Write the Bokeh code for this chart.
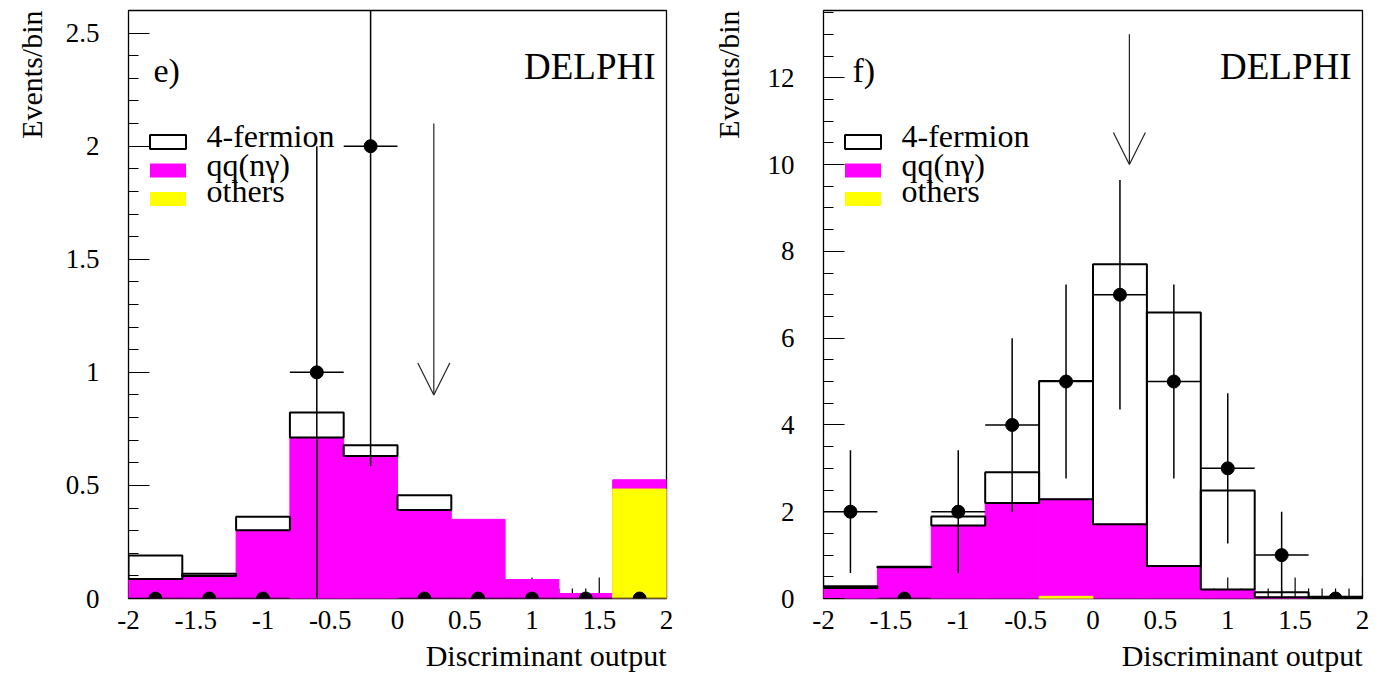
import numpy as np
from bokeh.plotting import figure
from bokeh.layouts import row
from bokeh.models import (Range1d, SingleIntervalTicker, CustomJSTickFormatter,
                          Label, Arrow, OpenHead, Title)
from bokeh.embed import file_html
from bokeh.resources import INLINE

# ---------------- data ----------------
bin_low = [-2.0, -1.6, -1.2, -0.8, -0.4, 0.0, 0.4, 0.8, 1.2, 1.6]
bin_high = [-1.6, -1.2, -0.8, -0.4, 0.0, 0.4, 0.8, 1.2, 1.6, 2.0]
bin_center = [-1.8, -1.4, -1.0, -0.6, -0.2, 0.2, 0.6, 1.0, 1.4, 1.8]

# panel e)
e_others = [0.0, 0.0, 0.0, 0.0, 0.0, 0.0, 0.0, 0.0, 0.0, 0.484]
e_qq = [0.086, 0.100, 0.302, 0.712, 0.630, 0.391, 0.350, 0.084, 0.022, 0.041]
e_fermion4 = [0.104, 0.009, 0.059, 0.110, 0.048, 0.066, 0.0, 0.0, 0.0, 0.0]
e_data = [0, 0, 0, 1, 2, 0, 0, 0, 0, 0]
e_cut = 0.27
e_arrow = (2.1, 0.9)

# panel f)
f_others = [0.0, 0.0, 0.0, 0.0, 0.05, 0.0, 0.0, 0.0, 0.0, 0.0]
f_qq = [0.24, 0.72, 1.68, 2.20, 2.24, 1.71, 0.75, 0.21, 0.03, 0.0]
f_fermion4 = [0.04, 0.01, 0.21, 0.71, 2.72, 5.99, 5.84, 2.28, 0.115, 0.04]
f_data = [2, 0, 2, 4, 5, 7, 5, 3, 1, 0]
f_cut = 0.27
f_arrow = (13.0, 10.0)

legend_labels = ["4-fermion", "qq(n\u03b3)", "others"]
x_title = "Discriminant output"
y_title = "Events/bin"

MAGENTA = "#ff00ff"
YELLOW = "#ffff00"
FONT = "Liberation Serif"
FRAME_TOP, FRAME_BOTTOM = 10, 598
FRAME_H = FRAME_BOTTOM - FRAME_TOP
HAS_STANDOFF = "standoff" in Title.properties()


def side_title(text, standoff, valign):
    t = Title(text=text, align="right", vertical_align=valign, text_font=FONT,
              text_font_size="30px", text_font_style="normal", text_color="black")
    if HAS_STANDOFF:
        t.standoff = standoff
    return t


def make_panel(tag, others, qq, f4, data, cut, arrow_y, ymax, y_int, y_minor,
               fig_w, bl, br, tag_dx, ytitle_standoff):
    frame_w = fig_w - bl - br

    def X(dx):  # pixel offset from frame left -> data
        return -2 + dx / frame_w * 4.0

    def Y(py):  # absolute pixel row -> data
        return (FRAME_BOTTOM - py) / FRAME_H * ymax

    p = figure(width=fig_w, height=680, x_range=Range1d(-2, 2), y_range=Range1d(0, ymax),
               output_backend="svg", toolbar_location=None,
               min_border_left=bl, min_border_right=br,
               min_border_top=FRAME_TOP, min_border_bottom=680 - FRAME_BOTTOM)
    p.xgrid.visible = False
    p.ygrid.visible = False
    p.outline_line_color = "black"
    p.outline_line_width = 1.3
    p.background_fill_color = "white"
    p.border_fill_color = "white"

    fmt = CustomJSTickFormatter(code="return String(Math.round(tick*100)/100);")

    xa = p.xaxis[0]
    xa.ticker = SingleIntervalTicker(interval=0.5, num_minor_ticks=5)
    xa.formatter = fmt
    xa.axis_line_color = None
    xa.major_tick_line_color = None
    xa.minor_tick_line_color = None
    xa.major_tick_in = 0
    xa.major_tick_out = 0
    xa.minor_tick_in = 0
    xa.minor_tick_out = 0
    xa.major_label_text_font = FONT
    xa.major_label_text_font_size = "27px"
    xa.major_label_text_color = "black"
    xa.major_label_standoff = 12

    ya = p.yaxis[0]
    ya.ticker = SingleIntervalTicker(interval=y_int, num_minor_ticks=y_minor)
    ya.formatter = fmt
    ya.axis_line_color = None
    ya.major_tick_in = 21
    ya.major_tick_out = 0
    ya.minor_tick_in = 10
    ya.minor_tick_out = 0
    ya.major_tick_line_color = "black"
    ya.minor_tick_line_color = "black"
    ya.major_tick_line_width = 1.2
    ya.minor_tick_line_width = 1.2
    ya.major_label_text_font = FONT
    ya.major_label_text_font_size = "27px"
    ya.major_label_text_color = "black"
    ya.major_label_standoff = 29

    # axis titles as side titles: right-aligned below, top-aligned on the left
    p.add_layout(side_title(x_title, 10, "bottom"), "below")
    p.add_layout(side_title(y_title, ytitle_standoff, "top"), "left")

    # x ticks drawn beneath the filled histograms
    t = np.round(np.arange(-20, 21) / 10.0, 1)
    is_major = np.isclose(t * 2, np.round(t * 2))
    major_len = 21 / FRAME_H * ymax
    minor_len = 10 / FRAME_H * ymax
    tick_len = np.where(is_major, major_len, minor_len)
    p.segment(x0=t, x1=t, y0=0, y1=tick_len, line_color="black", line_width=1.2,
              level="underlay")

    lo = np.array(bin_low)
    hi = np.array(bin_high)
    oth = np.array(others)
    stack = oth + np.array(qq)
    top = stack + np.array(f4)

    m = stack > 0
    p.quad(left=lo[m], right=hi[m], bottom=0, top=stack[m],
           fill_color=MAGENTA, line_color=MAGENTA, line_width=1)
    m = oth > 0
    p.quad(left=lo[m], right=hi[m], bottom=0, top=oth[m],
           fill_color=YELLOW, line_color=YELLOW, line_width=1)
    m = np.array(f4) > 0
    p.quad(left=lo[m], right=hi[m], bottom=stack[m], top=top[m],
           fill_color=None, line_color="black", line_width=2)

    n = np.array(data, dtype=float)
    err = np.sqrt(n)
    c = np.array(bin_center)
    p.segment(x0=c, x1=c, y0=n - err, y1=n + err, line_color="black", line_width=1.5)
    p.segment(x0=lo, x1=hi, y0=n, y1=n, line_color="black", line_width=1.5)
    p.scatter(x=c, y=n, size=13, fill_color="black", line_color="black")

    p.add_layout(Arrow(end=OpenHead(size=32, line_color="#222222", line_width=1.2),
                       x_start=cut, y_start=arrow_y[0], x_end=cut, y_end=arrow_y[1],
                       line_color="#222222", line_width=1.2))

    # legend
    box_rows = [141.5, 170, 198.5]
    text_rows = [135, 164, 190]
    p.rect(x=X(39.5), y=Y(box_rows[0]), width=36, height=14, width_units="screen",
           height_units="screen", fill_color="white", line_color="black", line_width=2)
    p.rect(x=X(39.5), y=Y(box_rows[1]), width=36, height=14, width_units="screen",
           height_units="screen", fill_color=MAGENTA, line_color=None)
    p.rect(x=X(39.5), y=Y(box_rows[2]), width=36, height=14, width_units="screen",
           height_units="screen", fill_color=YELLOW, line_color=None)
    for lab, ty in zip(legend_labels, text_rows):
        p.add_layout(Label(x=X(78), y=Y(ty), text=lab, text_font=FONT,
                           text_font_size="32px", text_color="black",
                           text_align="left", text_baseline="alphabetic"))

    p.add_layout(Label(x=X(tag_dx), y=Y(70), text=tag, text_font=FONT,
                       text_font_size="34px", text_color="black",
                       text_align="left", text_baseline="alphabetic"))
    p.add_layout(Label(x=X(frame_w - 11), y=Y(66), text="DELPHI", text_font=FONT,
                       text_font_size="37px", text_color="black",
                       text_align="right", text_baseline="alphabetic"))
    return p


pe = make_panel("e)", e_others, e_qq, e_fermion4, e_data, e_cut, e_arrow,
                2.6, 0.5, 5, 692, 128, 26, 25, 25)
pf = make_panel("f)", f_others, f_qq, f_fermion4, f_data, f_cut, f_arrow,
                13.55, 2, 4, 693, 131, 23, 29, 35)

layout = row(pe, pf)
open("out.html", "w").write(file_html(layout, INLINE))
